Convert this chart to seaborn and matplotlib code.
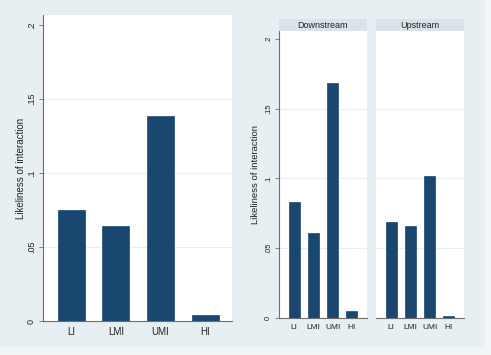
import matplotlib
matplotlib.use("Agg")
import matplotlib.pyplot as plt
import pandas as pd
import seaborn as sns
from matplotlib.patches import Rectangle

# values
CATEGORIES = ["LI", "LMI", "UMI", "HI"]
OVERALL = [0.0751, 0.0643, 0.1384, 0.0039]
DOWNSTREAM = [0.0832, 0.0612, 0.1685, 0.0052]
UPSTREAM = [0.0686, 0.0657, 0.1020, 0.0017]
PANELS = ["Downstream", "Upstream"]
YTICKS = [0, 0.05, 0.1, 0.15, 0.2]
YTICKLABELS = ["0", ".05", ".1", ".15", ".2"]
YLABEL = "Likeliness of interaction"

NAVY = "#1a476f"
BG = "#e7eff2"
OUTER = "#f1f5f6"
STRIP = "#d9e4e8"
GRID = "#e6eef1"
AXIS = "#6e6e6e"

W, H = 491, 355

sns.set_theme(style="white")
plt.rcParams["font.family"] = ["Liberation Sans", "DejaVu Sans"]

fig = plt.figure(figsize=(W / 100, H / 100), dpi=100, facecolor=OUTER)
fig.patches.append(Rectangle((0, 1 - 347 / H), 485 / W, 347 / H,
                             transform=fig.transFigure, facecolor=BG,
                             edgecolor="none", zorder=-10))


def px_axes(x0, x1, y_top, y_bot):
    return fig.add_axes([x0 / W, 1 - y_bot / H, (x1 - x0) / W, (y_bot - y_top) / H])


def draw(ax, values, xlim, ytop, fs_x, fs_y, fs_lab, labelpad=4, show_y=True):
    df = pd.DataFrame({"group": CATEGORIES, "value": values})
    sns.barplot(data=df, x="group", y="value", color=NAVY, saturation=1,
                width=0.6, ax=ax, edgecolor=NAVY, linewidth=0.5)
    ax.set_facecolor("white")
    ax.set_xlim(*xlim)
    ax.set_ylim(0, ytop)
    ax.set_xlabel("")
    ax.set_yticks(YTICKS)
    for y in YTICKS[1:-1]:
        ax.axhline(y, color=GRID, lw=0.8, zorder=0)
    for s in ["top", "right"]:
        ax.spines[s].set_visible(False)
    ax.spines["bottom"].set_color(AXIS)
    ax.spines["bottom"].set_linewidth(0.8)
    ax.tick_params(axis="x", length=0, labelsize=fs_x, pad=4, colors="#222222")
    if show_y:
        ax.spines["left"].set_color(AXIS)
        ax.spines["left"].set_linewidth(0.8)
        ax.set_yticklabels(YTICKLABELS, rotation=90, va="center")
        ax.tick_params(axis="y", length=3, width=0.6, color=AXIS, labelsize=fs_y,
                       pad=2, colors="#222222", left=True)
        ax.set_ylabel(YLABEL, fontsize=fs_lab, color="#222222", labelpad=labelpad)
    else:
        ax.spines["left"].set_visible(False)
        ax.tick_params(axis="y", length=0, labelleft=False)
        ax.set_ylabel("")


ax0 = px_axes(43, 232, 15, 321)
draw(ax0, OVERALL, (-0.63, 3.6), 0.2068, 7, 6.5, 7, labelpad=0.8)

strip_y = (19, 31)
for name, vals, (x0, x1), show in zip(PANELS, [DOWNSTREAM, UPSTREAM],
                                      [(279, 367), (376, 464)], [True, False]):
    ax = px_axes(x0, x1, 31, 318)
    draw(ax, vals, (-0.8, 3.8), 0.2057, 6, 5.5, 6.8, labelpad=3.5, show_y=show)
    sax = px_axes(x0, x1, *strip_y)
    sax.set_facecolor(STRIP)
    sax.set_xticks([])
    sax.set_yticks([])
    for s in sax.spines.values():
        s.set_visible(False)
    sax.text(0.5, 0.5, name, ha="center", va="center", fontsize=6.5,
             color="#222222", transform=sax.transAxes)

fig.savefig("out.png", dpi=100, facecolor=fig.get_facecolor())
